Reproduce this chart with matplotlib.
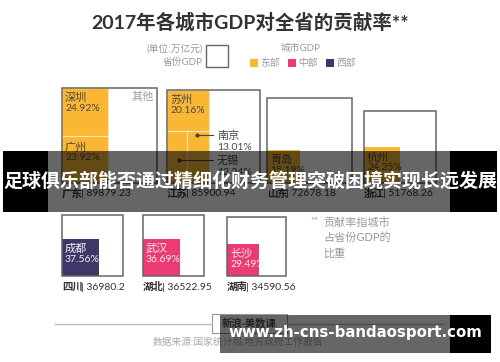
import numpy as np
import matplotlib
matplotlib.use("Agg")
import matplotlib.pyplot as plt
from matplotlib.patches import Rectangle

plt.rcParams['font.family'] = ['Lato', 'Noto Sans CJK SC', 'DejaVu Sans']

# data
provinces = ['广东', '江苏', '山东', '浙江', '四川', '湖北', '湖南']
prov_gdp = [89879.23, 85900.94, 72678.18, 51768.26, 36980.2, 36522.95, 34590.56]
prov_region = ['东部', '东部', '东部', '东部', '西部', '中部', '中部']
city_names = [['深圳', '广州'], ['苏州', '南京', '无锡'], ['青岛'], ['杭州'],
              ['成都'], ['武汉'], ['长沙']]
city_share = [[24.92, 23.92], [20.16, 13.01, 12.24], [15.19], [24.25],
              [37.56], [36.69], [29.49]]
regions = ['东部', '中部', '西部']
region_colors = {'东部': '#F9B733', '中部': '#EC3A72', '西部': '#3E3869'}

# layout (pixels)
box_left = [62, 167, 267, 364, 62, 143, 227]
box_bottom = [183, 183, 183, 183, 276, 276, 276]
max_side = 95

fig = plt.figure(figsize=(5, 3.62), dpi=100)
ax = fig.add_axes([0, 0, 1, 1])
ax.set_xlim(0, 500)
ax.set_ylim(362, 0)
ax.axis('off')

edge = '#666666'
txt_dark = '#4a4a4a'
gray = '#9a9a9a'

ax.text(250, 22, '2017年各城市GDP对全省的贡献率**', ha='center', va='center',
        fontsize=14, fontweight='bold', color='#333333')

# legend
ax.text(203, 50, '(单位:万亿元)', ha='right', va='center', fontsize=7, color=gray)
ax.text(203, 62, '省份GDP', ha='right', va='center', fontsize=7, color=gray)
ax.add_patch(Rectangle((206, 45), 22, 22, fill=False, ec=edge, lw=1))
ax.text(301, 48, '城市GDP', ha='center', va='center', fontsize=7, color=gray)
for i, r in enumerate(regions):
    lx = 250 + i * 38
    ax.add_patch(Rectangle((lx, 59), 8, 8, color=region_colors[r], lw=0))
    ax.text(lx + 10, 63, r, ha='left', va='center', fontsize=7, color=gray)

for i, p in enumerate(provinces):
    side = max_side * np.sqrt(prov_gdp[i] / prov_gdp[0])
    x0 = box_left[i]
    y1 = box_bottom[i]
    y0 = y1 - side
    col = region_colors[prov_region[i]]
    tcol = txt_dark if prov_region[i] == '东部' else '#f0f0f0'
    names = city_names[i]
    shares = city_share[i]
    if len(names) == 1:
        s = side * np.sqrt(shares[0] / 100)
        ax.add_patch(Rectangle((x0, y1 - s), s, s, color=col, lw=0))
        ax.text(x0 + 3, y1 - s + 4, names[0], ha='left', va='top', fontsize=8, color=tcol)
        ax.text(x0 + 3, y1 - s + 16, f'{shares[0]:.2f}%', ha='left', va='top',
                fontsize=7.5, color=tcol)
    else:
        total = sum(shares)
        cw = side * total / 100
        h0 = side * shares[0] / total
        ax.add_patch(Rectangle((x0, y0), cw, h0, fc=col, ec='#fbe3a8', lw=0.8))
        ax.text(x0 + 3, y0 + 4, names[0], ha='left', va='top', fontsize=8, color=tcol)
        ax.text(x0 + 3, y0 + 16, f'{shares[0]:.2f}%', ha='left', va='top',
                fontsize=7.5, color=tcol)
        if len(names) == 2:
            ax.add_patch(Rectangle((x0, y0 + h0), cw, side - h0, fc=col,
                                   ec='#fbe3a8', lw=0.8))
            ax.text(x0 + 3, y0 + h0 + 5, names[1], ha='left', va='top',
                    fontsize=8, color=tcol)
            ax.text(x0 + 3, y0 + h0 + 17, f'{shares[1]:.2f}%', ha='left',
                    va='top', fontsize=7.5, color=tcol)
        else:
            rest = shares[1] + shares[2]
            wl = cw * shares[2] / rest
            ax.add_patch(Rectangle((x0, y0 + h0), wl, side - h0, fc=col,
                                   ec='#fbe3a8', lw=0.8))
            ax.add_patch(Rectangle((x0 + wl, y0 + h0), cw - wl, side - h0, fc=col,
                                   ec='#fbe3a8', lw=0.8))
            # leaders: 南京 (right block), 无锡 (left block)
            for (dx, dy, nm, sh) in [(x0 + wl + 10, y0 + h0 + 4, names[1], shares[1]),
                                     (x0 + wl / 2 + 2, y0 + h0 + 29, names[2], shares[2])]:
                ax.plot([dx, 213], [dy, dy], color='#444444', lw=0.8)
                ax.plot(dx, dy, 'o', ms=2, color='#444444')
                ax.text(217, dy, nm, ha='left', va='center', fontsize=8, color=txt_dark)
                ax.text(217, dy + 12, f'{sh:.2f}%', ha='left', va='center',
                        fontsize=7.5, color=txt_dark)
        if i == 0:
            ax.text(x0 + side - 3, y0 + 3, '其他', ha='right', va='top',
                    fontsize=8, color=gray)
    ax.add_patch(Rectangle((x0, y0), side, side, fill=False, ec=edge, lw=1.1))
    ax.text(x0, y1 + 11, p, ha='left', va='center', fontsize=7.5,
            fontweight='bold', color='#333333')
    ax.text(x0 + 19, y1 + 11, f'| {prov_gdp[i]}', ha='left', va='center',
            fontsize=7.5, color='#333333')

# footnote
ax.text(310, 222, '**', ha='left', va='center', fontsize=7, color=gray)
for k, line in enumerate(['贡献率指城市', '占省份GDP的', '比重']):
    ax.text(323, 222 + k * 15.5, line, ha='left', va='center', fontsize=8, color=gray)

# footer
ax.plot([55, 212], [324, 324], color='#bbbbbb', lw=1)
ax.plot([287, 443], [324, 324], color='#bbbbbb', lw=1)
ax.add_patch(Rectangle((212, 314), 75, 19, fill=False, ec='#999999', lw=0.8))
ax.text(249.5, 323.5, '新浪·美数课', ha='center', va='center', fontsize=7.5,
        fontweight='bold', color='#555555')
ax.text(153, 342, '数据来源:国家统计局,地方政府工作报告', ha='left', va='center',
        fontsize=7, color='#aaaaaa')

# overlay banners
ax.add_patch(Rectangle((48, 151), 402, 61, color='black', alpha=0.6, lw=0, zorder=10))
ax.add_patch(Rectangle((3, 151), 45, 61, color='black', lw=0, zorder=10))
ax.add_patch(Rectangle((450, 151), 47, 61, color='black', lw=0, zorder=10))
ax.text(250, 181, '足球俱乐部能否通过精细化财务管理突破困境实现长远发展', ha='center',
        va='center', fontsize=13.7, fontweight='bold', color='white',
        family=['Noto Sans CJK SC', 'DejaVu Sans'], zorder=11)

ax.add_patch(Rectangle((220, 315), 230, 38, color='black', alpha=0.6, lw=0, zorder=10))
ax.add_patch(Rectangle((450, 315), 41, 38, color='black', lw=0, zorder=10))
ax.text(355, 333, 'www.zh-cns-bandaosport.com', ha='center', va='center',
        fontsize=10.8, fontweight='bold', color='white', family='DejaVu Sans', zorder=11)

fig.savefig('out.png', dpi=100)
